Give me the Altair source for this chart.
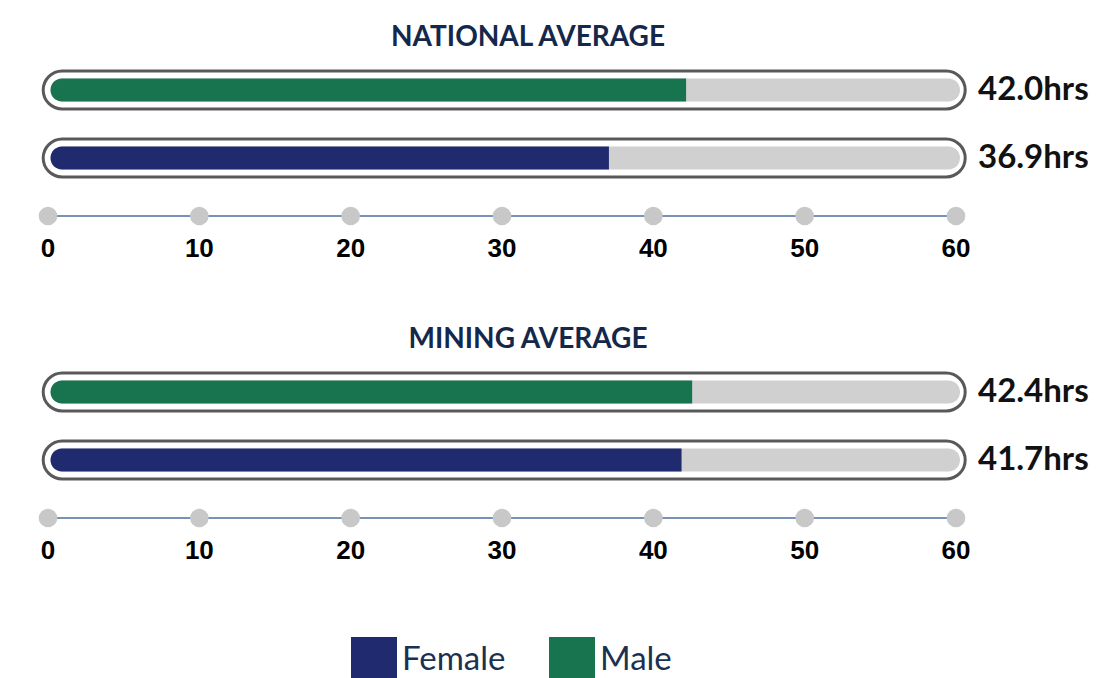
import altair as alt
import pandas as pd

# ---- data ----
panel_titles = ["NATIONAL AVERAGE", "MINING AVERAGE"]
genders = ["Male", "Female"]
national_hours = [42.0, 36.9]
mining_hours = [42.4, 41.7]
tick_values = [0, 10, 20, 30, 40, 50, 60]
legend_order = ["Female", "Male"]
legend_colors = ["#1f2a6f", "#18744f"]
axis_max = 60

rows = ["Male", "Female", "axis"]

x_scale = alt.Scale(domain=[0, axis_max], nice=False, zero=True)
y_scale = alt.Scale(domain=rows, paddingInner=0, paddingOuter=0)


def panel(title, values):
    bars = pd.DataFrame({
        "row": genders,
        "hours": values,
        "label": [f"{v:.1f}hrs" for v in values],
        "start": [0] * len(values),
        "end": [axis_max] * len(values),
    })
    ticks = pd.DataFrame({"tick": tick_values, "row": ["axis"] * len(tick_values)})
    axis_line = pd.DataFrame({"row": ["axis"], "start": [0], "end": [axis_max]})
    title_df = pd.DataFrame({"row": ["Male"], "mid": [axis_max / 2], "label": [title]})

    X = lambda f: alt.X(f, type="quantitative", scale=x_scale, axis=None)
    Y = alt.Y("row:N", scale=y_scale, axis=None)

    title_text = alt.Chart(title_df).mark_text(
        font="Lato", fontSize=28, fontWeight="bold", color="#14284b",
        baseline="middle", dx=26, yOffset=-52
    ).encode(x=X("mid"), y=Y, text="label:N")

    outline = alt.Chart(bars).mark_bar(
        fill="white", stroke="#595959", strokeWidth=3, cornerRadius=19,
        size=38, xOffset=-4.8, x2Offset=9.2
    ).encode(x=X("start"), x2="end", y=Y)

    track = alt.Chart(bars).mark_bar(
        color="#d0d0d0", cornerRadius=11.5, size=23, xOffset=2.5, x2Offset=4
    ).encode(x=X("start"), x2="end", y=Y)

    value_bar = alt.Chart(bars).mark_bar(
        size=23, cornerRadiusTopLeft=11.5, cornerRadiusBottomLeft=11.5,
        xOffset=2.5, x2Offset=2.5
    ).encode(
        x=X("start"), x2="hours", y=Y,
        color=alt.Color(
            "row:N",
            scale=alt.Scale(domain=legend_order, range=legend_colors),
            legend=alt.Legend(
                title=None, orient="none", direction="horizontal",
                legendX=303, legendY=581, symbolType="square",
                symbolSize=2116, symbolStrokeWidth=0, symbolOpacity=1,
                labelFont="Lato", labelFontSize=33, labelColor="#1b3152",
                labelOffset=5, columnPadding=43, padding=0,
                labelLimit=300,
            ),
        ),
    )

    value_text = alt.Chart(bars).mark_text(
        align="left", baseline="middle", dx=22, font="Lato",
        fontWeight="bold", fontSize=33, color="#111111"
    ).encode(x=X("end"), y=Y, text="label:N")

    rule = alt.Chart(axis_line).mark_rule(
        color="#4a6ca0", strokeWidth=1.5, yOffset=-10
    ).encode(x=X("start"), x2="end", y=Y)

    dots = alt.Chart(ticks).mark_circle(
        size=346, color="#c8c8c8", opacity=1, yOffset=-10
    ).encode(x=X("tick"), y=Y)

    tick_text = alt.Chart(ticks).mark_text(
        font="Liberation Sans", fontWeight="bold", fontSize=26,
        color="#000000", baseline="middle", yOffset=22.5
    ).encode(x=X("tick"), y=Y, text="tick:Q")

    return alt.layer(
        title_text, outline, track, value_bar, value_text, rule, dots, tick_text
    ).properties(width=908, height=204)


chart = alt.vconcat(
    panel(panel_titles[0], national_hours),
    panel(panel_titles[1], mining_hours),
    spacing=98,
    bounds="flush",
).properties(
    padding={"left": 30, "top": 16, "right": 0, "bottom": 0},
    background="white",
).configure_view(stroke=None)

chart.save("out.html", embed_options={"renderer": "svg", "actions": False})
